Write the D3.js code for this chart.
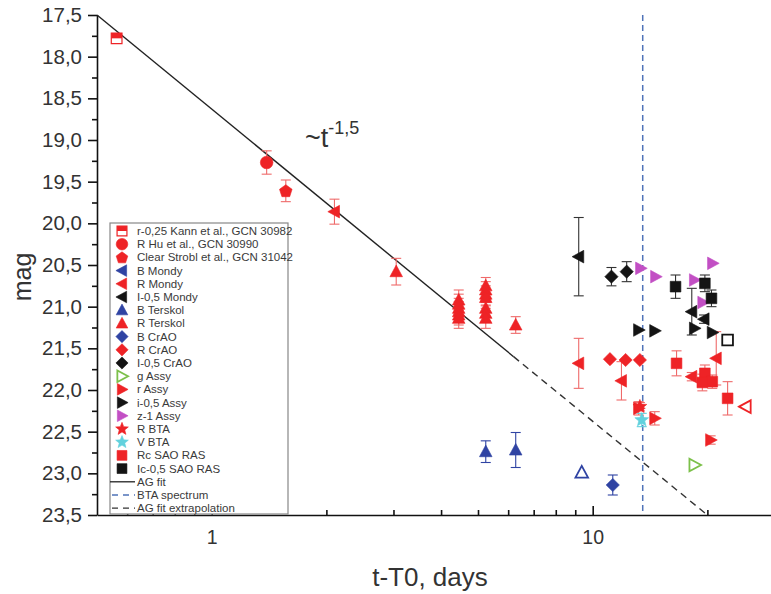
<!DOCTYPE html>
<html><head><meta charset="utf-8">
<script src="https://cdn.jsdelivr.net/npm/d3@7"></script>
<style>body{margin:0;background:#fff} svg{display:block;font-family:"Liberation Sans",Arial,sans-serif}</style>
</head><body><svg id="c" width="771" height="594"></svg>
<script>
// ---------- data ----------
const xTickValues = [1, 10];
const xTickLabels = ["1", "10"];
const xMinorTicks = [0.6, 0.7, 0.8, 0.9, 2, 3, 4, 5, 6, 7, 8, 9, 20];
const yTickValues = [17.5, 18, 18.5, 19, 19.5, 20, 20.5, 21, 21.5, 22, 22.5, 23, 23.5];
const yTickLabels = ["17,5","18,0","18,5","19,0","19,5","20,0","20,5","21,0","21,5","22,0","22,5","23,0","23,5"];
const yMinorTicks = [17.75,18.25,18.75,19.25,19.75,20.25,20.75,21.25,21.75,22.25,22.75,23.25];

// [t-T0 (days), mag, error]
const kann     = [[0.563, 17.78, 0.04]];
const hu       = [[1.394, 19.27, 0.14]];
const strobl   = [[1.565, 19.61, 0.13]];
const bMondy   = [];
const rMondy   = [[2.10, 19.86, 0.15], [9.19, 21.68, 0.30], [11.9, 21.89, 0.23], [18.2, 21.84, 0.05], [21.1, 21.62, 0.32]];
const iMondy   = [[9.19, 20.40, 0.47], [18.2, 21.06, 0.28], [19.6, 21.15, 0.05]];
const bTerskol = [[5.24, 22.74, 0.13], [6.28, 22.72, 0.21]];
const rTerskol = [[3.05, 20.58, 0.16],
                  [4.45, 20.92, 0.12], [4.45, 20.97, 0.12], [4.45, 21.02, 0.12], [4.45, 21.06, 0.12], [4.45, 21.10, 0.12], [4.45, 21.14, 0.12],
                  [5.24, 20.75, 0.10], [5.24, 20.80, 0.10], [5.24, 20.85, 0.10], [5.24, 20.89, 0.10],
                  [5.24, 21.02, 0.10], [5.24, 21.08, 0.10], [5.24, 21.14, 0.12],
                  [6.28, 21.22, 0.10]];
const bCrAO    = [[11.29, 23.14, 0.12]];
const rCrAO    = [[11.1, 21.63, 0.03], [12.2, 21.64, 0.03], [13.3, 21.64, 0.03]];
const iCrAO    = [[11.2, 20.64, 0.11], [12.28, 20.58, 0.12]];
const gAssy    = [[18.5, 22.90, 0]];
const rAssy    = [[13.2, 22.22, 0.08], [14.55, 22.34, 0.08], [20.4, 22.60, 0.05]];
const iAssy    = [[13.2, 21.28, 0.03], [14.55, 21.29, 0.03], [18.5, 21.26, 0.03], [20.6, 21.31, 0.03]];
const zAssy    = [[13.36, 20.54, 0.03], [14.63, 20.64, 0.03], [18.5, 20.68, 0.03], [20.64, 20.48, 0.03], [19.46, 20.95, 0.03]];
const rBTA     = [[13.3, 22.20, 0.05]];
const vBTA     = [[13.45, 22.36, 0.08]];
const rcSAO    = [[16.6, 21.68, 0.15], [19.7, 21.80, 0.10], [19.4, 21.91, 0.10], [20.6, 21.90, 0.08], [22.6, 22.10, 0.20]];
const icSAO    = [[16.5, 20.76, 0.14], [19.7, 20.72, 0.10], [20.5, 20.90, 0.10]];
// open symbols (limits)
const bTerskolOpen = [[9.36, 22.99]];
const rMondyOpen   = [[25.2, 22.20]];
const icSAOOpen    = [[22.6, 21.40]];

const fitSolid = [[0.5, 17.5], [6.2, 21.60]];
const fitDashed = [[6.2, 21.60], [20.0, 23.5]];
const btaSpectrumT = 13.53;

const legendLabels = ["r-0,25 Kann et al., GCN 30982","R Hu et al., GCN 30990","Clear Strobl et al., GCN 31042",
 "B Mondy","R Mondy","I-0,5 Mondy","B Terskol","R Terskol","B CrAO","R CrAO","I-0,5 CrAO",
 "g Assy","r Assy","i-0,5 Assy","z-1 Assy","R BTA","V BTA","Rc SAO RAS","Ic-0,5 SAO RAS",
 "AG fit","BTA spectrum","AG fit extrapolation"];

// ---------- styles ----------
const RED="#ee2326", ERED="#ef6a6a", BLUE="#2f43a3", BLACK="#141414", GREEN="#7cc04a", PURPLE="#c24fc4", CYAN="#62d1dd";
const series = [
  {data:kann, shape:"halfsq", color:RED, err:ERED},
  {data:hu, shape:"circle", color:RED, err:ERED},
  {data:strobl, shape:"pentagon", color:RED, err:ERED},
  {data:bMondy, shape:"triLeft", color:BLUE, err:BLUE},
  {data:rMondy, shape:"triLeft", color:RED, err:ERED},
  {data:iMondy, shape:"triLeft", color:BLACK, err:"#333"},
  {data:bTerskol, shape:"triUp", color:BLUE, err:BLUE},
  {data:rTerskol, shape:"triUp", color:RED, err:ERED},
  {data:bCrAO, shape:"diamond", color:BLUE, err:BLUE},
  {data:rCrAO, shape:"diamond", color:RED, err:ERED},
  {data:iCrAO, shape:"diamond", color:BLACK, err:"#333"},
  {data:gAssy, shape:"triRight", color:GREEN, err:GREEN, open:true},
  {data:rBTA, shape:"star", color:RED, err:ERED},
  {data:rAssy, shape:"triRight", color:RED, err:ERED},
  {data:iAssy, shape:"triRight", color:BLACK, err:"#333"},
  {data:zAssy, shape:"triRight", color:PURPLE, err:PURPLE},
  {data:vBTA, shape:"star", color:CYAN, err:CYAN},
  {data:rcSAO, shape:"square", color:RED, err:ERED},
  {data:icSAO, shape:"square", color:BLACK, err:"#333"},
  {data:bTerskolOpen, shape:"triUp", color:BLUE, open:true},
  {data:rMondyOpen, shape:"triLeft", color:RED, open:true},
  {data:icSAOOpen, shape:"square", color:BLACK, open:true}
];
const legendSeries = [0,1,2,3,4,5,6,7,8,9,10,11,13,14,15,12,16,17,18];

function poly(pts){return "M"+pts.map(p=>p[0].toFixed(2)+","+p[1].toFixed(2)).join("L")+"Z";}
function shapePath(type, r){
  switch(type){
    case "circle": return `M${-r},0A${r},${r} 0 1,0 ${r},0A${r},${r} 0 1,0 ${-r},0Z`;
    case "square": case "halfsq": {const s=r*0.85; return poly([[-s,-s],[s,-s],[s,s],[-s,s]]);}
    case "triUp": return poly([[0,-r*1.05],[r,r*0.8],[-r,r*0.8]]);
    case "triLeft": return poly([[-r*1.05,0],[r*0.8,-r],[r*0.8,r]]);
    case "triRight": return poly([[r*1.05,0],[-r*0.8,-r],[-r*0.8,r]]);
    case "diamond": return poly([[0,-r*1.05],[r*1.05,0],[0,r*1.05],[-r*1.05,0]]);
    case "pentagon": {const p=[];for(let i=0;i<5;i++){const a=-Math.PI/2+i*2*Math.PI/5;p.push([r*1.05*Math.cos(a),r*1.05*Math.sin(a)+0.5]);}return poly(p);}
    case "star": {const p=[];for(let i=0;i<10;i++){const a=-Math.PI/2+i*Math.PI/5;const rr=i%2?r*0.5:r*1.15;p.push([rr*Math.cos(a),rr*Math.sin(a)]);}return poly(p);}
  }
}
function drawMarker(g, s, cx, cy, r){
  if(s.shape==="halfsq"){
    const h=r*0.85;
    g.append("path").attr("d",shapePath("square",r)).attr("transform",`translate(${cx},${cy})`)
      .attr("fill","#fff").attr("stroke",s.color).attr("stroke-width",1.2);
    g.append("rect").attr("x",cx-h).attr("y",cy-h).attr("width",2*h).attr("height",h).attr("fill",s.color);
    return;
  }
  g.append("path").attr("d",shapePath(s.shape,r)).attr("transform",`translate(${cx},${cy})`)
    .attr("fill", s.open?"#fff":s.color).attr("stroke",s.color).attr("stroke-width", s.open?1.8:0.6);
}

// ---------- chart ----------
const svg = d3.select("#c");
const x = d3.scaleLog().domain([0.5, 30]).range([97, 97 + 381*Math.log10(60)]);
const y = d3.scaleLinear().domain([17.5, 23.5]).range([15, 515]);
const TXT="#333";

// y axis
svg.append("g").attr("transform","translate(97,0)")
  .call(d3.axisLeft(y).tickValues(yTickValues).tickSize(9).tickPadding(6).tickSizeOuter(0)
     .tickFormat((d,i)=>yTickLabels[i]))
  .selectAll(".tick text").attr("font-size",20.5);
svg.append("g").attr("transform","translate(97,0)")
  .call(d3.axisLeft(y).tickValues(yMinorTicks).tickSize(5).tickFormat("").tickSizeOuter(0))
  .select(".domain").remove();
// x axis
svg.append("g").attr("transform","translate(0,515)")
  .call(d3.axisBottom(x).tickValues(xTickValues).tickSize(-9).tickPadding(15).tickSizeOuter(0)
     .tickFormat((d,i)=>xTickLabels[i]))
  .selectAll(".tick text").attr("font-size",19.5);
svg.append("g").attr("transform","translate(0,515)")
  .call(d3.axisBottom(x).tickValues(xMinorTicks).tickSize(-5).tickFormat("").tickSizeOuter(0))
  .select(".domain").remove();
svg.selectAll(".domain, .tick line").attr("stroke","#111").attr("stroke-width",1.6);
svg.selectAll(".tick text").attr("fill",TXT).attr("font-family",'"Liberation Sans",Arial,sans-serif');

// axis titles
svg.append("text").attr("x",430).attr("y",586).attr("text-anchor","middle").attr("font-size",26).attr("fill",TXT).text("t-T0, days");
svg.append("text").attr("transform","translate(31,277) rotate(-90)").attr("text-anchor","middle").attr("font-size",25).attr("fill",TXT).text("mag");

// BTA spectrum line
svg.append("line").attr("x1",x(btaSpectrumT)).attr("x2",x(btaSpectrumT)).attr("y1",y(17.5)).attr("y2",y(23.5))
  .attr("stroke","#4f73b8").attr("stroke-width",1.5).attr("stroke-dasharray","6,4");

// fit lines
const line = d3.line().x(d=>x(d[0])).y(d=>y(d[1]));
svg.append("path").attr("d",line(fitSolid)).attr("fill","none").attr("stroke","#222").attr("stroke-width",1.4);
svg.append("path").attr("d",line(fitDashed)).attr("fill","none").attr("stroke","#333").attr("stroke-width",1.4).attr("stroke-dasharray","7,5");

// annotation
const ann = svg.append("text").attr("x",305).attr("y",147).attr("fill",TXT).attr("font-size",27);
ann.append("tspan").text("~t");
ann.append("tspan").attr("font-size",18).attr("dy",-13).text("-1,5");

// legend
const lg = svg.append("g");
lg.append("rect").attr("x",110).attr("y",223).attr("width",178).attr("height",291)
  .attr("fill","#fff").attr("stroke","#888").attr("stroke-width",1.2);
legendLabels.forEach((lab,i)=>{
  const ly = 231 + i*13.2;
  if(i<legendSeries.length){
    const s = series[legendSeries[i]];
    drawMarker(lg, s, 122, ly, 5.8);
  } else {
    const l = lg.append("line").attr("x1",110).attr("x2",135).attr("y1",ly).attr("y2",ly).attr("stroke-width",1.3);
    if(i===19) l.attr("stroke","#222");
    if(i===20) l.attr("stroke","#4f73b8").attr("stroke-dasharray","6,5").attr("x1",112);
    if(i===21) l.attr("stroke","#333").attr("stroke-dasharray","6,5").attr("x1",112);
  }
  lg.append("text").attr("x",137).attr("y",ly+4).attr("font-size",11.5).attr("fill","#3a3a3a").text(lab);
});

// data
const pg = svg.append("g");
series.forEach(s=>{
  s.data.forEach(d=>{
    if(d[2]>0.035){
      const cx=x(d[0]), y1=y(d[1]-d[2]), y2=y(d[1]+d[2]);
      pg.append("line").attr("x1",cx).attr("x2",cx).attr("y1",y1).attr("y2",y2).attr("stroke",s.err).attr("stroke-width",1.1);
      [y1,y2].forEach(yy=>pg.append("line").attr("x1",cx-5).attr("x2",cx+5).attr("y1",yy).attr("y2",yy).attr("stroke",s.err).attr("stroke-width",1.1));
    }
  });
});
series.forEach(s=>{
  s.data.forEach(d=>drawMarker(pg, s, x(d[0]), y(d[1]), 6.3));
});
</script></body></html>
